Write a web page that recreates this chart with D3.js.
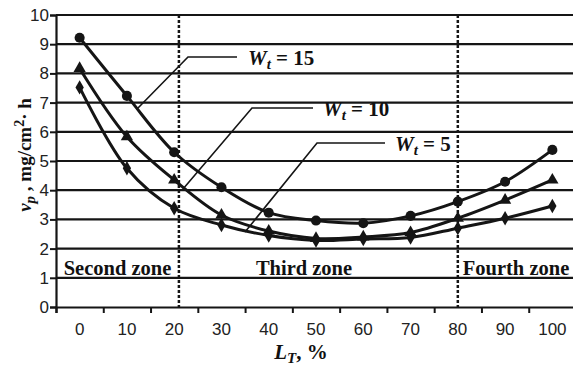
<!DOCTYPE html>
<html>
<head>
<meta charset="utf-8">
<script src="https://cdn.jsdelivr.net/npm/d3@7"></script>
<style>
  body { margin: 0; background: #fff; }
  .tick text { font-family: "Liberation Sans", Arial, sans-serif; font-size: 17px; fill: #222; }
  .lbl { font-family: "Liberation Serif", "Times New Roman", serif; font-weight: bold; fill: #111; }
</style>
</head>
<body>
<svg width="573" height="367"></svg>
<script>
// data
const xValues = [0, 10, 20, 30, 40, 50, 60, 70, 80, 90, 100];
const w15 = [9.22, 7.23, 5.3, 4.1, 3.23, 2.96, 2.87, 3.12, 3.61, 4.29, 5.38];
const w10 = [8.17, 5.83, 4.35, 3.15, 2.6, 2.35, 2.4, 2.55, 3.04, 3.66, 4.35];
const w5 = [7.52, 4.75, 3.38, 2.81, 2.45, 2.28, 2.33, 2.38, 2.7, 3.04, 3.46];
const yTicks = [0, 1, 2, 3, 4, 5, 6, 7, 8, 9, 10];
const zoneBounds = [21, 80];
const zoneNames = ["Second zone", "Third zone", "Fourth zone"];
const seriesNames = ["15", "10", "5"];

const svg = d3.select("svg");
const ink = "#151515";

const x = d3.scaleLinear().domain([-5, 105]).range([56, 576]);
const y = d3.scaleLinear().domain([0, 10]).range([307, 15]);

// horizontal grid
svg.append("g")
  .selectAll("line")
  .data(yTicks.slice(1))
  .join("line")
  .attr("x1", x(-5)).attr("x2", x(105))
  .attr("y1", d => y(d)).attr("y2", d => y(d))
  .attr("stroke", ink).attr("stroke-width", 2.2);

// y axis
const yAxis = svg.append("g")
  .attr("transform", "translate(" + x(-5) + ",0)")
  .call(d3.axisLeft(y).tickValues(yTicks).tickSize(6).tickPadding(1));
yAxis.select(".domain").attr("stroke", ink).attr("stroke-width", 2.2);
yAxis.selectAll(".tick line").attr("stroke", ink).attr("stroke-width", 2);

// x axis: ticks between categories, labels in the middle
const xAxis = svg.append("g")
  .attr("transform", "translate(0," + y(0) + ")")
  .call(d3.axisBottom(x).tickValues(xValues.map(d => d - 5).concat([105])).tickSize(6).tickFormat(""));
xAxis.select(".domain").attr("stroke", ink).attr("stroke-width", 2.2);
xAxis.selectAll(".tick line").attr("stroke", ink).attr("stroke-width", 2);

svg.append("g")
  .selectAll("text")
  .data(xValues)
  .join("text")
  .attr("x", d => x(d))
  .attr("y", y(0) + 28)
  .attr("text-anchor", "middle")
  .style("font-family", "Liberation Sans, Arial, sans-serif")
  .style("font-size", "17px")
  .style("fill", "#222")
  .text(d => d);

// zone boundaries
svg.append("g")
  .selectAll("line")
  .data(zoneBounds)
  .join("line")
  .attr("x1", d => x(d)).attr("x2", d => x(d))
  .attr("y1", y(10)).attr("y2", y(0))
  .attr("stroke", ink).attr("stroke-width", 2.5)
  .attr("stroke-dasharray", "3,2");

// zone labels
const zoneX = [(x(-5) + x(zoneBounds[0])) / 2, 304, 516];
svg.append("g")
  .selectAll("text")
  .data(zoneNames)
  .join("text")
  .attr("class", "lbl")
  .attr("x", (d, i) => zoneX[i])
  .attr("y", y(1.08))
  .attr("text-anchor", "middle")
  .style("font-size", "20.5px")
  .text(d => d);

// curves
const line = d3.line()
  .x((d, i) => x(xValues[i]))
  .y(d => y(d))
  .curve(d3.curveCatmullRom.alpha(0.5));

[w15, w10, w5].forEach(s => {
  svg.append("path")
    .datum(s)
    .attr("d", line)
    .attr("fill", "none")
    .attr("stroke", ink)
    .attr("stroke-width", 3);
});

const symbols = [d3.symbolCircle, d3.symbolTriangle, d3.symbolDiamond];
const sizes = [80, 65, 60];
[w15, w10, w5].forEach((s, k) => {
  svg.append("g")
    .selectAll("path")
    .data(s)
    .join("path")
    .attr("transform", (d, i) => "translate(" + x(xValues[i]) + "," + y(d) + ")")
    .attr("d", d3.symbol().type(symbols[k]).size(sizes[k]))
    .attr("fill", ink);
});

// legend leaders and labels
const leaders = [
  [[138, 108], [188, 57], [237, 57]],
  [[183, 189], [252, 108], [313, 108]],
  [[245, 232], [317, 143], [385, 143]]
];
const labelPos = [[248, 65], [323, 116], [395, 151]];
leaders.forEach(p => {
  svg.append("path")
    .attr("d", d3.line()(p))
    .attr("fill", "none")
    .attr("stroke", ink)
    .attr("stroke-width", 1.6);
});
seriesNames.forEach((n, i) => {
  const t = svg.append("text")
    .attr("class", "lbl")
    .attr("x", labelPos[i][0])
    .attr("y", labelPos[i][1])
    .style("font-size", "21px");
  t.append("tspan").style("font-style", "italic").text("W");
  t.append("tspan").style("font-style", "italic").style("font-size", "15px").attr("dy", 4).text("t");
  t.append("tspan").attr("dy", -4).text(" = " + n);
});

// axis titles
const yt = svg.append("text")
  .attr("class", "lbl")
  .attr("transform", "translate(31,155) rotate(-90)")
  .attr("text-anchor", "middle")
  .style("font-size", "19px");
yt.append("tspan").style("font-style", "italic").text("ν");
yt.append("tspan").style("font-style", "italic").style("font-size", "15px").attr("dy", 4).text("p");
yt.append("tspan").attr("dy", -4).text(" , mg/cm");
yt.append("tspan").style("font-size", "14px").attr("dy", -7).text("2");
yt.append("tspan").attr("dy", 7).text("· h");

const xt = svg.append("text")
  .attr("class", "lbl")
  .attr("x", 301)
  .attr("y", 359)
  .attr("text-anchor", "middle")
  .style("font-size", "21px");
xt.append("tspan").style("font-style", "italic").text("L");
xt.append("tspan").style("font-style", "italic").style("font-size", "15px").attr("dy", 4).text("T");
xt.append("tspan").attr("dy", -4).text(", %");
</script>
</body>
</html>
